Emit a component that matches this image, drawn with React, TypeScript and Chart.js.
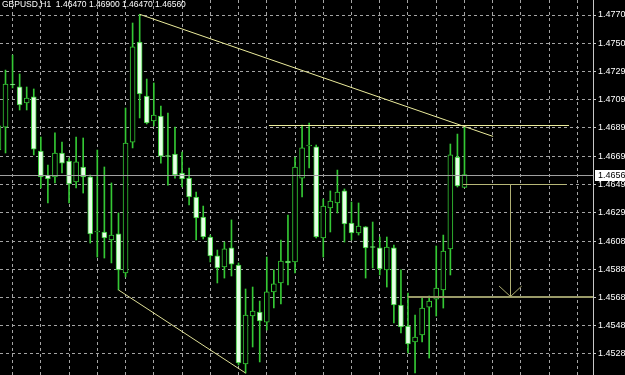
import React, { useEffect, useRef } from 'react';
import { Chart, registerables } from 'chart.js';
Chart.register(...registerables);

const headerText = 'GBPUSD,H1  1.46470 1.46900 1.46470 1.46560';

const candleIndex = [-1, 0, 1, 2, 3, 4, 5, 6, 7, 8, 9, 10, 11, 12, 13, 14, 15, 16, 17, 18, 19, 20, 21, 22, 23, 24, 25, 26, 27, 28, 29, 30, 31, 32, 33, 34, 35, 36, 37, 38, 39, 40, 41, 42, 43, 44, 45, 46, 47, 48, 49, 50, 51, 52, 53, 54, 55, 56, 57, 58, 59, 60, 61, 62, 63, 64, 65];
const opens = [1.46736, 1.46900, 1.47205, 1.47188, 1.47072, 1.47115, 1.46729, 1.46558, 1.46544, 1.46715, 1.46658, 1.46508, 1.46615, 1.46544, 1.46151, 1.46151, 1.46094, 1.46137, 1.45858, 1.46793, 1.47507, 1.47122, 1.46943, 1.46979, 1.46693, 1.46708, 1.46572, 1.46536, 1.46401, 1.46258, 1.46115, 1.45980, 1.45901, 1.46037, 1.45915, 1.45209, 1.45551, 1.45580, 1.45508, 1.45723, 1.45787, 1.45944, 1.45937, 1.46536, 1.46765, 1.46758, 1.46108, 1.46322, 1.46358, 1.46444, 1.46215, 1.46144, 1.46187, 1.46044, 1.46037, 1.45880, 1.46037, 1.45630, 1.45480, 1.45366, 1.45416, 1.45615, 1.45672, 1.45737, 1.46030, 1.46686, 1.46470];
const highs = [1.46950, 1.47307, 1.47414, 1.47279, 1.47186, 1.47172, 1.46829, 1.46629, 1.46858, 1.46793, 1.46679, 1.46829, 1.46822, 1.46558, 1.46736, 1.46615, 1.46501, 1.46287, 1.47036, 1.47643, 1.47705, 1.47243, 1.47215, 1.47050, 1.47000, 1.46900, 1.46722, 1.46608, 1.46436, 1.46336, 1.46129, 1.46022, 1.46079, 1.46237, 1.45930, 1.45744, 1.45758, 1.45658, 1.45972, 1.45880, 1.46094, 1.46272, 1.46686, 1.46915, 1.46929, 1.46772, 1.46386, 1.46444, 1.46593, 1.46458, 1.46365, 1.46358, 1.46190, 1.46222, 1.46115, 1.46115, 1.46058, 1.45880, 1.45715, 1.45558, 1.45680, 1.45694, 1.46051, 1.46129, 1.46779, 1.46850, 1.46900];
const lows = [1.46701, 1.46715, 1.47179, 1.47022, 1.47022, 1.46701, 1.46465, 1.46358, 1.46501, 1.46572, 1.46358, 1.46465, 1.46429, 1.46072, 1.45972, 1.45965, 1.45930, 1.45737, 1.45830, 1.46751, 1.46965, 1.46922, 1.46908, 1.46643, 1.46486, 1.46536, 1.46472, 1.46344, 1.46094, 1.46101, 1.45937, 1.45787, 1.45822, 1.45837, 1.45201, 1.45144, 1.45330, 1.45223, 1.45451, 1.45608, 1.45637, 1.45773, 1.45858, 1.46401, 1.46608, 1.46108, 1.45972, 1.46151, 1.46287, 1.46079, 1.46094, 1.46129, 1.45822, 1.45894, 1.45844, 1.45758, 1.45501, 1.45430, 1.45287, 1.45144, 1.45366, 1.45251, 1.45551, 1.45608, 1.45844, 1.46472, 1.46470];
const closes = [1.46908, 1.47207, 1.47200, 1.47058, 1.47107, 1.46743, 1.46544, 1.46529, 1.46715, 1.46643, 1.46494, 1.46651, 1.46544, 1.46137, 1.46155, 1.46108, 1.46129, 1.45880, 1.46786, 1.47472, 1.47136, 1.46929, 1.46986, 1.46693, 1.46690, 1.46558, 1.46529, 1.46401, 1.46251, 1.46115, 1.45980, 1.45894, 1.46030, 1.45922, 1.45216, 1.45558, 1.45587, 1.45516, 1.45723, 1.45780, 1.45944, 1.45930, 1.46615, 1.46751, 1.46770, 1.46115, 1.46336, 1.46372, 1.46436, 1.46208, 1.46144, 1.46194, 1.46037, 1.46040, 1.45887, 1.46044, 1.45630, 1.45473, 1.45351, 1.45401, 1.45608, 1.45658, 1.45751, 1.46015, 1.46701, 1.46479, 1.46560];

const priceTicks = [1.477, 1.475, 1.47295, 1.47095, 1.46895, 1.4669, 1.4649, 1.4629, 1.46085, 1.45885, 1.45685, 1.4548, 1.4528];
const timeGridIdx = [3, 7, 11, 15, 19, 23, 27, 31, 35, 39, 43, 47, 51, 55, 59, 63, 67, 71, 75, 79, 83];
const currentPrice = 1.4656;

// drawn objects, in (candle index, price) units
const trendLines = [
  { x0: 19, y0: 1.47705, x1: 69.05, y1: 1.46833, color: '#ecec9c', width: 1 },
  { x0: 16, y0: 1.45737, x1: 34, y1: 1.45144, color: '#e0e098', width: 1 },
];
const levelLines = [
  { x0: 37.3, x1: 79.8, price: 1.46912, color: '#ecec9c', width: 1 },
  { x0: 64.8, x1: 79.4, price: 1.4649, color: '#b8b878', width: 1 },
  { x0: 57.0, x1: 84, price: 1.45688, color: '#9a9a68', width: 2 },
];
const arrowLine = { x: 71.5, from: 1.4649, to: 1.4569, headDx: 1.6, headDy: 0.00075, color: '#b0b074' };

const X_MIN = -0.78;
const X_MAX = 83.2;
const Y_MIN = 1.4513;
const Y_MAX = 1.478071;

const GREEN = '#34c834';
const BEAR_FILL = '#e6ffe6';
const GRID = '#a4a4a4';

export default function App() {
  const ref = useRef<HTMLCanvasElement | null>(null);
  useEffect(() => {
    document.body.style.margin = '0';
    document.body.style.background = '#000';
    const canvas = ref.current!;
    const bg = {
      id: 'bg',
      beforeDraw(chart: any) {
        const c = chart.ctx;
        c.save();
        c.fillStyle = '#000';
        c.fillRect(0, 0, chart.width, chart.height);
        c.restore();
      },
    };
    const objects = {
      id: 'objects',
      afterDatasetsDraw(chart: any) {
        const c = chart.ctx;
        const xs = chart.scales.x;
        const ys = chart.scales.y;
        const a = chart.chartArea;
        c.save();
        c.beginPath();
        c.rect(a.left, a.top, a.right - a.left, a.bottom - a.top);
        c.clip();
        const py = Math.round(ys.getPixelForValue(currentPrice)) + 0.5;
        c.strokeStyle = '#a0a0a0';
        c.lineWidth = 1;
        c.beginPath();
        c.moveTo(a.left, py);
        c.lineTo(a.right, py);
        c.stroke();
        for (const t of trendLines) {
          c.strokeStyle = t.color;
          c.lineWidth = t.width;
          c.beginPath();
          c.moveTo(xs.getPixelForValue(t.x0), ys.getPixelForValue(t.y0));
          c.lineTo(xs.getPixelForValue(t.x1), ys.getPixelForValue(t.y1));
          c.stroke();
        }
        for (const l of levelLines) {
          c.strokeStyle = l.color;
          c.lineWidth = l.width;
          const y = Math.round(ys.getPixelForValue(l.price)) + (l.width === 1 ? 0.5 : 0);
          c.beginPath();
          c.moveTo(xs.getPixelForValue(l.x0), y);
          c.lineTo(xs.getPixelForValue(l.x1), y);
          c.stroke();
        }
        const ax = Math.round(xs.getPixelForValue(arrowLine.x)) + 0.5;
        const ay0 = ys.getPixelForValue(arrowLine.from);
        const ay1 = ys.getPixelForValue(arrowLine.to);
        c.strokeStyle = arrowLine.color;
        c.lineWidth = 1;
        c.beginPath();
        c.moveTo(ax, ay0);
        c.lineTo(ax, ay1);
        c.moveTo(xs.getPixelForValue(arrowLine.x - arrowLine.headDx), ys.getPixelForValue(arrowLine.to + arrowLine.headDy));
        c.lineTo(ax, ay1);
        c.lineTo(xs.getPixelForValue(arrowLine.x + arrowLine.headDx), ys.getPixelForValue(arrowLine.to + arrowLine.headDy));
        c.stroke();
        c.restore();
      },
      afterDraw(chart: any) {
        const c = chart.ctx;
        const ys = chart.scales.y;
        const a = chart.chartArea;
        c.save();
        c.font = '8.5px "Liberation Sans"';
        c.fillStyle = '#ffffff';
        c.textBaseline = 'alphabetic';
        c.textAlign = 'left';
        c.fillText(headerText, 2, 7);
        const py = ys.getPixelForValue(currentPrice);
        c.fillStyle = '#ffffff';
        c.fillRect(a.right + 2, Math.round(py) - 5, chart.width - a.right - 2, 11);
        c.fillStyle = '#000000';
        c.font = '9px "Liberation Sans"';
        c.textBaseline = 'middle';
        c.fillText(currentPrice.toFixed(5), a.right + 5, py + 0.5);
        c.restore();
      },
    };

    const wickData = candleIndex.map((x, i) => ({ x, y: [lows[i], highs[i]] }));
    const bodyData = candleIndex.map((x, i) => ({ x, y: [opens[i], closes[i]] }));
    const bodyFill = candleIndex.map((_, i) => (closes[i] >= opens[i] ? '#000000' : BEAR_FILL));

    const chart = new Chart(canvas, {
      type: 'bar',
      data: {
        datasets: [
          {
            label: 'wick',
            data: wickData as any,
            backgroundColor: GREEN,
            borderWidth: 0,
            barThickness: 1,
            grouped: false,
            order: 2,
          } as any,
          {
            label: 'body',
            data: bodyData as any,
            backgroundColor: bodyFill,
            borderColor: GREEN,
            borderWidth: 1,
            borderSkipped: false,
            barThickness: 5,
            minBarLength: 1,
            grouped: false,
            order: 1,
          } as any,
        ],
      },
      options: {
        animation: false,
        responsive: false,
        events: [],
        layout: { padding: 0 },
        plugins: { legend: { display: false }, tooltip: { enabled: false } },
        scales: {
          x: {
            type: 'linear',
            min: X_MIN,
            max: X_MAX,
            offset: false,
            grid: { color: GRID, drawTicks: false, lineWidth: 1 },
            border: { display: false, dash: [3, 3] },
            ticks: { display: false },
            afterBuildTicks: (s: any) => {
              s.ticks = timeGridIdx.map((v) => ({ value: v }));
            },
            afterFit: (s: any) => {
              s.height = 0;
              s.paddingLeft = 0;
              s.paddingRight = 0;
            },
          },
          y: {
            type: 'linear',
            position: 'right',
            min: Y_MIN,
            max: Y_MAX,
            grid: { color: GRID, tickColor: '#c8c8c8', tickLength: 3, lineWidth: 1 },
            border: { display: true, color: '#c8c8c8', dash: [3, 3] },
            ticks: {
              color: '#ffffff',
              font: { family: 'Liberation Sans', size: 9 },
              padding: 2,
              autoSkip: false,
              callback: (v: any) => Number(v).toFixed(5),
            },
            afterBuildTicks: (s: any) => {
              s.ticks = priceTicks.map((v) => ({ value: v }));
            },
            afterFit: (s: any) => {
              s.width = 32;
              s.paddingTop = 0;
              s.paddingBottom = 0;
            },
          },
        },
      } as any,
      plugins: [bg, objects],
    });
    return () => chart.destroy();
  }, []);
  return (
    <div style={{ width: 625, height: 375, background: '#000' }}>
      <canvas ref={ref} width={625} height={375} style={{ display: 'block' }} />
    </div>
  );
}
